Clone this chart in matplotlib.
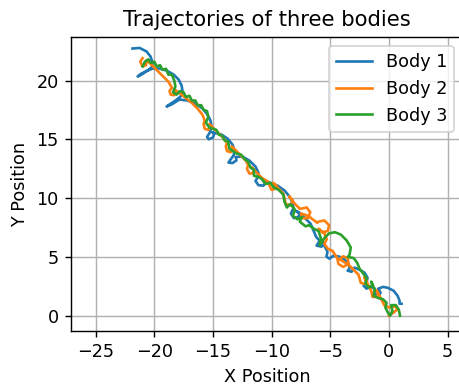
import matplotlib
matplotlib.use('Agg')
import matplotlib.pyplot as plt

# Body 1 (blue), from top-left end to bottom-right end
body1_x = [-21.86, -21.25, -20.66, -20.32, -20.15, -20.15, -20.57, -21.08, -21.42, -21.16,
           -20.74, -20.15, -19.55, -18.95, -18.36, -17.93, -17.67, -17.59, -17.76, -18.19,
           -18.70, -18.95, -18.53, -17.85, -17.17, -16.49, -15.89, -15.47, -15.21, -15.12,
           -15.25, -15.50, -15.35, -15.00, -14.90, -15.05, -14.27, -13.75, -13.33, -13.16,
           -13.24, -13.50, -13.67, -13.33, -13.00, -13.05, -12.48, -11.89, -11.37, -11.12,
           -11.20, -11.37, -11.12, -10.69, -10.55, -10.75, -10.16, -9.49, -8.89, -8.47,
           -8.21, -8.13, -8.35, -8.10, -7.70, -7.60, -7.90, -7.19, -6.68, -6.42,
           -6.20, -5.90, -6.16, -5.74, -5.57, -5.75, -5.23, -5.32, -5.06, -4.72,
           -4.21, -3.78, -3.44, -3.35, -3.52, -3.18, -2.93, -2.50, -2.08, -1.82,
           -1.90, -2.16, -1.90, -1.56, -1.20, -1.22, -0.88, -0.71, -0.90, -0.50,
           -0.11, 0.40, 0.74, 0.91, 0.91, 1.08]
body1_y = [22.72, 22.77, 22.47, 22.04, 21.53, 21.19, 20.85, 20.51, 20.34, 20.55,
           20.77, 21.02, 21.02, 20.85, 20.51, 20.09, 19.57, 19.06, 18.64, 18.30,
           17.96, 17.79, 17.96, 18.38, 18.30, 18.04, 17.62, 17.11, 16.60, 16.09,
           15.60, 15.20, 15.00, 15.15, 15.45, 15.60, 15.40, 15.06, 14.55, 14.04,
           13.62, 13.28, 13.02, 12.98, 13.20, 13.50, 13.53, 13.19, 12.68, 12.17,
           11.74, 11.45, 11.10, 11.06, 11.30, 11.50, 11.32, 11.06, 10.64, 10.13,
           9.62, 9.15, 8.70, 8.30, 8.40, 8.75, 8.90, 8.34, 7.83, 7.23,
           6.70, 6.38, 5.96, 5.87, 6.21, 6.40, 5.45, 5.02, 4.85, 5.11,
           5.02, 4.77, 4.43, 4.00, 3.83, 3.74, 4.09, 3.91, 3.66, 3.23,
           2.81, 2.55, 2.30, 2.47, 2.30, 1.96, 1.62, 1.96, 2.30, 2.45,
           2.38, 2.13, 1.70, 1.28, 1.02, 1.02]

# Body 2 (orange)
body2_x = [-21.0, -21.2, -21.0, -20.7, -20.7, -20.4, -20.0, -19.6, -19.2, -18.8, -18.5,
           -18.7, -18.6, -18.3, -18.1, -18.3, -17.8, -17.3, -16.8, -16.3, -15.9, -15.7,
           -15.8, -15.7, -15.4, -15.2, -15.3, -14.9, -14.5, -14.1, -13.8,
           -13.9, -13.8, -13.5, -13.3, -13.4, -13.0, -12.6, -12.2, -12.0,
           -12.1, -11.9, -11.6, -11.5, -11.7, -11.2, -10.8, -10.3,
           -10.2, -10.0, -9.7, -9.6, -9.9, -9.4, -9.0,
           -8.9, -8.8, -8.4, -8.2, -8.5, -8.0, -7.6,
           -7.5, -7.0, -6.7, -6.9, -7.4, -7.5, -6.9, -6.5, -6.1,
           -6.0, -5.5, -5.1, -5.2, -5.7, -6.0, -5.5, -5.3, -5.5, -5.2, -4.8,
           -4.4, -4.3, -3.9, -3.45, -3.5, -3.9, -4.2, -3.4, -3.0, -2.6,
           -2.5, -2.4, -2.1, -1.9, -2.1, -1.8, -1.6,
           -1.5, -1.4, -1.0, -0.9, -1.1, -0.8, -0.6, -0.4, 0.0, 0.6, 0.7, 0.3, 0.0]
body2_y = [21.9, 21.6, 21.2, 21.3, 21.7, 21.5, 21.1, 20.7, 20.3, 19.9, 19.4,
           19.1, 18.8, 18.75, 19.0, 19.25, 18.9, 18.5, 18.1, 17.6, 17.1, 16.6,
           16.3, 15.9, 15.8, 16.0, 16.3, 15.9, 15.5, 15.1, 14.7,
           14.4, 14.0, 13.9, 14.1, 14.4, 14.0, 13.6, 13.2, 12.8,
           12.5, 12.1, 12.1, 12.4, 12.6, 12.1, 11.7, 11.4,
           11.1, 10.7, 10.8, 11.1, 11.3, 10.8, 10.4,
           10.0, 9.5, 9.4, 9.8, 10.15, 9.5, 9.1,
           9.1, 9.2, 8.8, 8.3, 8.3, 8.7, 8.5, 8.2, 7.9,
           8.0, 8.1, 7.7, 7.2, 7.1, 7.4, 7.0, 6.5, 6.1, 5.7, 5.5,
           4.9, 4.4, 4.15, 4.4, 4.9, 5.05, 4.8, 4.3, 3.9, 3.5,
           3.2, 2.8, 2.7, 2.95, 3.25, 2.7, 2.3,
           2.1, 1.6, 1.6, 1.9, 2.2, 1.7, 1.3, 0.9, 0.7, 0.8, 0.5, 0.2, 0.0]

# Body 3 (green)
body3_x = [-21.0, -20.8, -20.5, -20.3, -20.0, -19.8, -19.5, -19.3, -19.0, -18.8,
           -18.5, -18.3, -18.2, -18.4, -18.1, -17.8, -17.5, -17.3, -17.0, -16.8,
           -16.5, -16.3, -16.0, -15.8, -15.5, -15.4, -15.6, -15.3, -15.0, -14.7,
           -14.5, -14.2, -14.0, -13.7, -13.6, -13.3, -13.0, -12.6, -12.3, -12.0,
           -11.8, -11.5, -11.5, -11.1, -10.8, -10.5, -10.1, -9.8, -9.4, -9.0,
           -8.9, -8.7, -8.4, -8.0, -8.2, -7.8, -7.4, -7.6, -7.1, -6.8, -6.4, -6.0,
           -5.8, -5.9, -5.5, -5.1, -4.6, -4.1, -3.6, -3.25, -3.35, -3.5,
           -3.0, -2.7, -2.5, -2.2, -1.9, -2.0, -1.7, -1.4, -1.5, -1.2, -1.3,
           -0.9, -0.5, -0.2, -0.3, -0.1, 0.1, 0.3, 0.2, 0.6, 0.85, 0.95]
body3_y = [21.2, 21.6, 21.8, 21.5, 21.6, 21.2, 21.3, 20.9, 21.0, 20.5,
           20.5, 20.0, 19.5, 19.0, 18.8, 19.1, 19.0, 18.6, 18.7, 18.3,
           18.3, 17.9, 17.9, 17.5, 17.4, 16.9, 16.4, 16.0, 15.9, 15.8,
           15.4, 15.3, 14.9, 14.8, 14.2, 14.0, 13.8, 13.7, 13.3, 13.1,
           12.6, 12.4, 11.9, 11.8, 11.6, 11.2, 11.3, 10.9, 10.7, 10.3,
           9.7, 9.2, 9.5, 9.0, 8.5, 8.2, 8.4, 8.0, 7.6, 7.7, 7.4, 7.2,
           6.6, 6.0, 6.6, 7.0, 7.1, 6.9, 6.4, 5.8, 5.2, 5.0,
           4.9, 4.5, 4.0, 3.6, 3.2, 2.7, 2.4, 2.6, 2.9, 2.2, 1.7,
           1.5, 1.4, 1.1, 0.7, 0.3, 0.0, 0.4, 0.9, 0.9, 0.5, 0.0]

fig = plt.figure(figsize=(459 / 127, 388 / 127), dpi=127)
ax = fig.add_axes([71 / 459, 57 / 388, 392 / 459, 294 / 388])

ax.plot(body1_x, body1_y, label='Body 1')
ax.plot(body2_x, body2_y, label='Body 2')
ax.plot(body3_x, body3_y, label='Body 3')

ax.set_xlim(-27.1, 6.32)
ax.set_ylim(-1.3, 23.7)
ax.set_xticks([-25, -20, -15, -10, -5, 0, 5])
ax.set_yticks([0, 5, 10, 15, 20])
ax.set_title('Trajectories of three bodies')
ax.set_xlabel('X Position')
ax.set_ylabel('Y Position')
ax.legend(loc='upper right')
ax.grid(True)

fig.savefig('out.png', dpi=127)
